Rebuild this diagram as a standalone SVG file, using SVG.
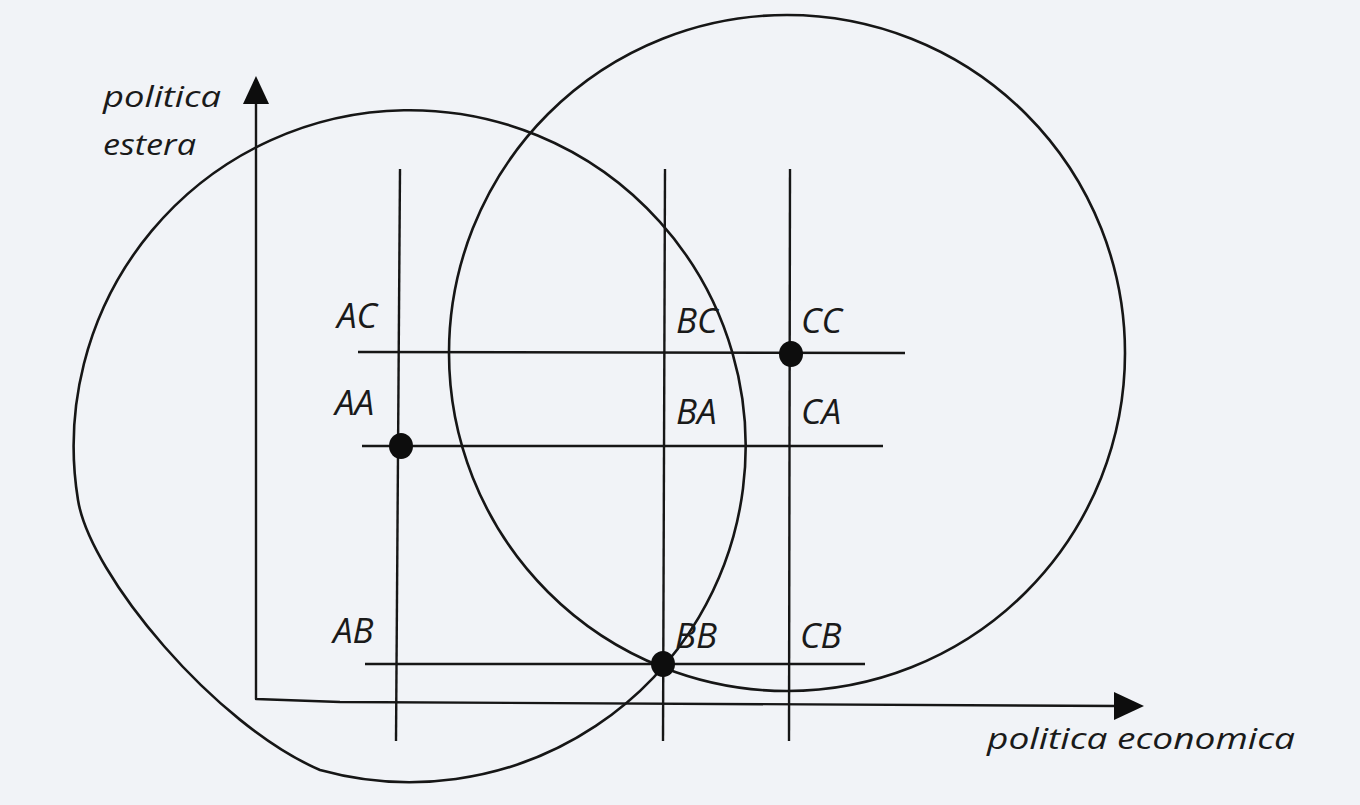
<svg xmlns="http://www.w3.org/2000/svg" width="1360" height="805" viewBox="0 0 1360 805">
  <style>
    .ln { fill: none; stroke: #161616; stroke-width: 2.4; stroke-linecap: butt; stroke-linejoin: round; }
    .crv { fill: none; stroke: #161616; stroke-width: 2.6; }
    .dot { fill: #0d0d0d; }
    .head { fill: #0d0d0d; }
    .lbl { font-family: "Open Sans", "Liberation Sans", sans-serif; font-style: italic; font-size: 35px; fill: #1a1a1a; }
    .ax { font-family: "Open Sans", "Liberation Sans", sans-serif; font-style: italic; font-size: 30px; fill: #1a1a1a; }
  </style>
  <rect x="0" y="0" width="1360" height="805" fill="#f1f3f7"/>

  <g id="curve-left">
    <path class="crv" d="M 320,770 A 336,336 0 1 0 78,500 C 90,575 215,725 320,770 Z"/>
  </g>
  <g id="curve-right">
    <circle class="crv" cx="787" cy="353" r="338"/>
  </g>

  <g id="connectors">
    <polyline class="ln" points="256,102 256,699 340,702 1118,706"/>
    <polygon class="head" points="256,76 243,104 269,104"/>
    <polygon class="head" points="1144,706 1114,692 1114,720"/>
    <line class="ln" x1="400" y1="169" x2="396" y2="741"/>
    <line class="ln" x1="665" y1="169" x2="663" y2="741"/>
    <line class="ln" x1="790" y1="169" x2="789" y2="741"/>
    <line class="ln" x1="358" y1="352" x2="905" y2="353"/>
    <line class="ln" x1="362" y1="446" x2="883" y2="446"/>
    <line class="ln" x1="365" y1="664" x2="865" y2="664"/>
  </g>

  <g id="axis-y-label">
    <text class="ax" x="103" y="107" textLength="118" lengthAdjust="spacingAndGlyphs">politica</text>
    <text class="ax" x="103" y="155" textLength="93" lengthAdjust="spacingAndGlyphs">estera</text>
  </g>
  <g id="axis-x-label">
    <text class="ax" x="987" y="749" textLength="308" lengthAdjust="spacingAndGlyphs">politica economica</text>
  </g>

  <g id="node-AC"><text class="lbl" x="337" y="328">AC</text></g>
  <g id="node-AA">
    <ellipse class="dot" cx="401" cy="446" rx="12" ry="13"/>
    <text class="lbl" x="335" y="415">AA</text>
  </g>
  <g id="node-AB"><text class="lbl" x="333" y="643">AB</text></g>
  <g id="node-BC"><text class="lbl" x="676" y="333">BC</text></g>
  <g id="node-BA"><text class="lbl" x="676" y="424">BA</text></g>
  <g id="node-BB">
    <ellipse class="dot" cx="663" cy="664" rx="12" ry="13"/>
    <text class="lbl" x="675" y="648">BB</text>
  </g>
  <g id="node-CC">
    <ellipse class="dot" cx="791" cy="354" rx="12" ry="13"/>
    <text class="lbl" x="801" y="333">CC</text>
  </g>
  <g id="node-CA"><text class="lbl" x="801" y="424">CA</text></g>
  <g id="node-CB"><text class="lbl" x="800" y="648">CB</text></g>
</svg>
